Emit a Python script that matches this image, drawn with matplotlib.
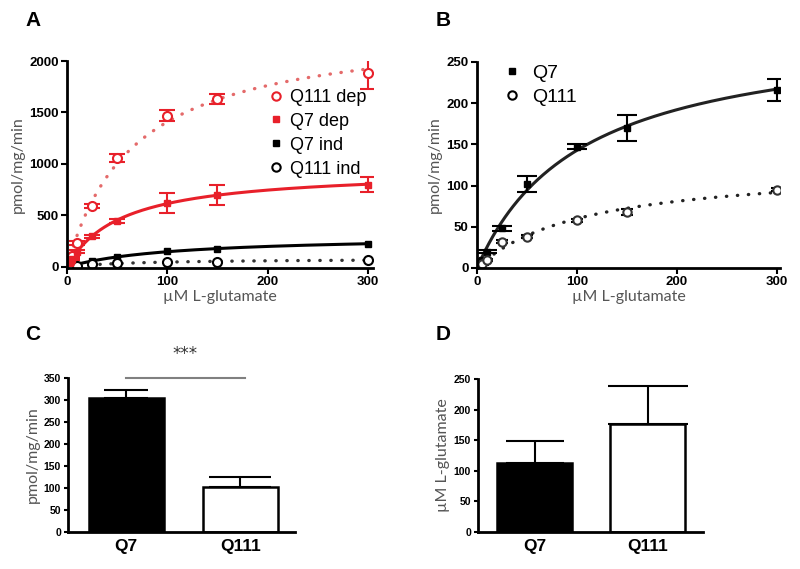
import numpy as np
import matplotlib.pyplot as plt
from matplotlib.lines import Line2D

# substrate concentrations (uM L-glutamate)
conc = [2.5, 5, 10, 25, 50, 100, 150, 300]

# panel A
q111_dep = [60, 110, 230, 590, 1060, 1470, 1630, 1880]
q111_dep_err = [5, 10, 20, 20, 40, 50, 50, 150]
q7_dep = [40, 80, 150, 300, 450, 620, 700, 800]
q7_dep_err = [5, 10, 10, 15, 20, 100, 100, 70]
q7_ind_a = [5, 10, 20, 55, 100, 155, 175, 225]
q111_ind_a = [2, 5, 10, 25, 35, 45, 50, 70]

# panel B
q7_b = [5, 10, 20, 48, 102, 147, 170, 216]
q7_b_err = [1, 1, 2, 3, 10, 3, 16, 13]
q111_b = [2, 5, 10, 32, 38, 58, 68, 95]
q111_b_err = [1, 1, 1, 2, 2, 2, 4, 2]

# panels C and D
groups = ['Q7', 'Q111']
vmax = [305, 102]
vmax_err = [18, 22]
km = [112, 177]
km_err = [37, 62]

RED = '#e8202a'
PINK = '#e46a6a'
GRAY = '#555555'
LBL = ['Lato', 'DejaVu Sans']
TICK = ['Liberation Sans', 'DejaVu Sans']
DOT = (0, (0.1, 3.2))


def mm_fit(x, y):
    # michaelis-menten fit: grid over Km, Vmax by least squares
    x = np.asarray(x, float)
    y = np.asarray(y, float)
    best = None
    for k in np.linspace(1, 600, 3000):
        f = x / (k + x)
        v = (y * f).sum() / (f * f).sum()
        r = ((y - v * f) ** 2).sum()
        if best is None or r < best[0]:
            best = (r, v, k)
    return best[1], best[2]


def curve(ax, x, y, **kw):
    v, k = mm_fit(x, y)
    xs = np.linspace(0, 300, 300)
    ax.plot(xs, v * xs / (k + xs), **kw)


def style(ax, size=9.5):
    for s in ['top', 'right']:
        ax.spines[s].set_visible(False)
    for s in ['left', 'bottom']:
        ax.spines[s].set_linewidth(2)
    ax.tick_params(width=1.5, length=4, labelsize=size, pad=2)
    for t in ax.get_xticklabels() + ax.get_yticklabels():
        t.set_fontfamily(TICK)
        t.set_fontweight('bold')


fig = plt.figure(figsize=(8, 5.69), dpi=100)

def box(l, r, t, b):
    return [l / 800, 1 - b / 569, (r - l) / 800, (b - t) / 569]

# ---- A ----
ax = fig.add_axes(box(67, 373, 61, 268))
curve(ax, conc, q111_dep, color=PINK, ls=DOT, lw=2.4, dash_capstyle='round')
curve(ax, conc, q7_dep, color=RED, lw=2.2)
curve(ax, conc, q7_ind_a, color='black', lw=2.2)
curve(ax, conc, q111_ind_a, color='#333333', ls=DOT, lw=2.4, dash_capstyle='round')
ax.errorbar(conc, q111_dep, yerr=q111_dep_err, fmt='o', mfc='white', mec=RED, mew=1.5,
            ms=6.5, ecolor=RED, elinewidth=1.5, capsize=6, capthick=1.5)
ax.errorbar(conc, q7_dep, yerr=q7_dep_err, fmt='s', color=RED, ms=5, elinewidth=1.5,
            capsize=6, capthick=1.5)
ax.plot(conc, q7_ind_a, 's', color='black', ms=5)
ax.plot(conc, q111_ind_a, 'o', mfc='white', mec='black', mew=1.5, ms=6.5)
ax.set_xlim(0, 305)
ax.set_ylim(-10, 2000)
ax.set_xticks([0, 100, 200, 300])
ax.set_yticks([0, 500, 1000, 1500, 2000])
ax.set_xlabel('µM L-glutamate', family=LBL, color=GRAY, fontsize=11.5, labelpad=1)
ax.set_ylabel('pmol/mg/min', family=LBL, color=GRAY, fontsize=11.5, labelpad=3)
style(ax)
handles = [
    Line2D([], [], ls='', marker='o', mfc='white', mec=RED, mew=1.5, ms=6),
    Line2D([], [], ls='', marker='s', color=RED, ms=5),
    Line2D([], [], ls='', marker='s', color='black', ms=5),
    Line2D([], [], ls='', marker='o', mfc='white', mec='black', mew=1.5, ms=6),
]
ax.legend(handles, ['Q111 dep', 'Q7 dep', 'Q7 ind', 'Q111 ind'], loc='upper left',
          bbox_to_anchor=(0.635, 0.9), frameon=False, handlelength=0.8,
          handletextpad=0.4, labelspacing=0.38, borderaxespad=0,
          prop={'family': TICK, 'size': 13})

# ---- B ----
ax = fig.add_axes(box(477, 780, 62, 268))
curve(ax, conc, q7_b, color='#222222', lw=2.2)
curve(ax, conc, q111_b, color='#222222', ls=DOT, lw=2.4, dash_capstyle='round')
ax.errorbar(conc, q7_b, yerr=q7_b_err, fmt='s', color='black', ms=5, elinewidth=1.5,
            capsize=7, capthick=1.5)
ax.errorbar(conc, q111_b, yerr=q111_b_err, fmt='o', mfc='white', mec='#333333', mew=1.5,
            ms=6, ecolor='black', elinewidth=1.2, capsize=4)
ax.set_xlim(0, 303)
ax.set_ylim(0, 250)
ax.set_xticks([0, 100, 200, 300])
ax.set_yticks([0, 50, 100, 150, 200, 250])
ax.set_xlabel('µM L-glutamate', family=LBL, color=GRAY, fontsize=11.5, labelpad=1)
ax.set_ylabel('pmol/mg/min', family=LBL, color=GRAY, fontsize=11.5, labelpad=3)
style(ax)
handles = [
    Line2D([], [], ls='', marker='s', color='black', ms=5),
    Line2D([], [], ls='', marker='o', mfc='white', mec='black', mew=1.5, ms=6),
]
ax.legend(handles, ['Q7', 'Q111'], loc='upper left', bbox_to_anchor=(0.065, 1.025),
          frameon=False, handlelength=0.8, handletextpad=0.6, labelspacing=0.3,
          borderaxespad=0, prop={'family': TICK, 'size': 14})

# ---- C ----
ax = fig.add_axes(box(68, 295, 378, 532))
xpos = np.arange(len(groups))
ax.bar(xpos, vmax, width=0.66, color=['black', 'white'], edgecolor='black', lw=1.8)
for i, cap in zip(xpos, [16, 22]):
    ax.errorbar(xpos[i], vmax[i], yerr=[[0], [vmax_err[i]]], fmt='none', ecolor='black',
                elinewidth=1.5, capsize=cap, capthick=1.5)
ax.plot([0, 1.04], [350, 350], color='#808080', lw=1.5, clip_on=False)
ax.text(0.52, 405, '***', ha='center', va='center', fontsize=12, color='#333333')
ax.set_xlim(-0.51, 1.48)
ax.set_ylim(0, 350)
ax.set_xticks(xpos)
ax.set_xticklabels(groups)
ax.set_yticks(range(0, 351, 50))
ax.set_ylabel('pmol/mg/min', family=LBL, color=GRAY, fontsize=11.5, labelpad=3)
style(ax, 7.5)
ax.tick_params(axis='y', length=3)
ax.tick_params(axis='x', length=0, labelsize=12.5, pad=5)

# ---- D ----
ax = fig.add_axes(box(478, 703, 379, 532))
ax.bar(xpos, km, width=0.66, color=['black', 'white'], edgecolor='black', lw=1.8)
for i, cap in zip(xpos, [21, 29]):
    ax.errorbar(xpos[i], km[i], yerr=[[0], [km_err[i]]], fmt='none', ecolor='black',
                elinewidth=1.5, capsize=cap, capthick=1.5)
ax.set_xlim(-0.5, 1.49)
ax.set_ylim(0, 250)
ax.set_xticks(xpos)
ax.set_xticklabels(groups)
ax.set_yticks(range(0, 251, 50))
ax.set_ylabel('µM L-glutamate', family=LBL, color=GRAY, fontsize=11.5, labelpad=3)
style(ax, 7.5)
ax.tick_params(axis='y', length=3)
ax.tick_params(axis='x', length=0, labelsize=12.5, pad=5)

# panel letters
for lab, x, y in [('A', 33, 20), ('B', 443, 20), ('C', 33, 335), ('D', 443, 335)]:
    fig.text(x / 800, 1 - y / 569, lab, family=TICK, weight='bold', fontsize=15,
             ha='center', va='center')

fig.savefig('out.png', dpi=100)
